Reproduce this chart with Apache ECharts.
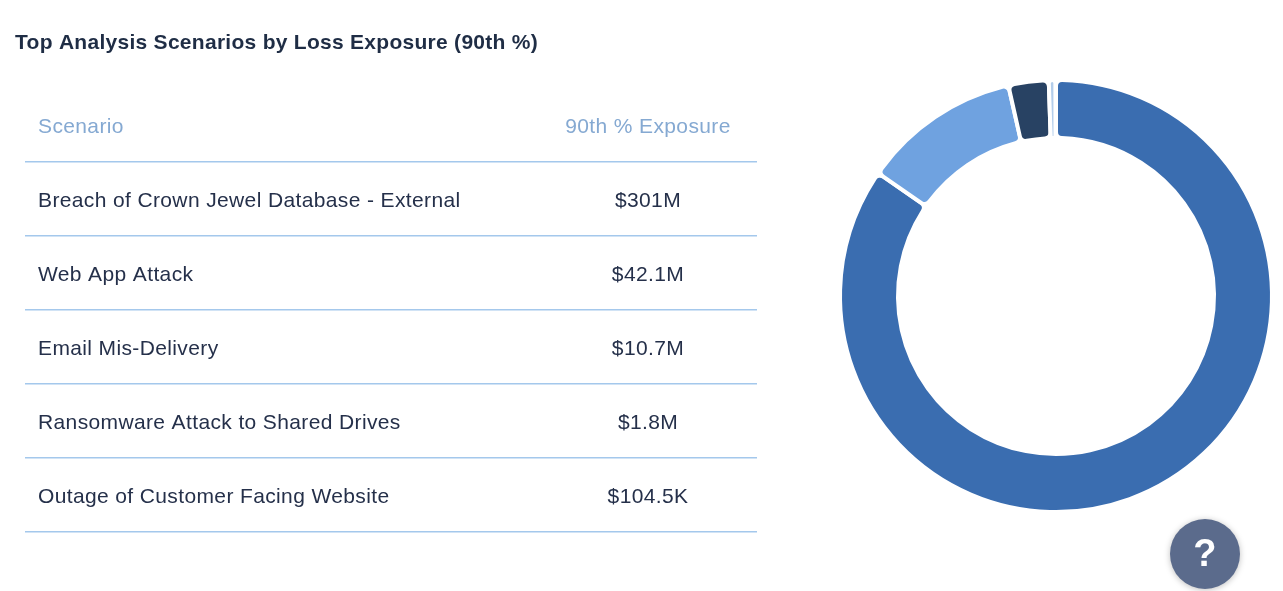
<!DOCTYPE html>
<html>
<head>
<meta charset="utf-8">
<style>
  html, body { margin: 0; padding: 0; background: #fff; }
  #chart { width: 1283px; height: 591px; }
</style>
<script src="https://cdn.jsdelivr.net/npm/echarts@6/dist/echarts.min.js"></script>
</head>
<body>
<div id="chart"></div>
<script>
const titleText = 'Top Analysis Scenarios by Loss Exposure (90th %)';
const columnNames = ['Scenario', '90th % Exposure'];
const scenarios = [
  'Breach of Crown Jewel Database - External',
  'Web App Attack',
  'Email Mis-Delivery',
  'Ransomware Attack to Shared Drives',
  'Outage of Customer Facing Website'
];
const exposureLabels = ['$301M', '$42.1M', '$10.7M', '$1.8M', '$104.5K'];
const exposureValues = [301000000, 42100000, 10700000, 1800000, 104500];
const sliceColors = ['#3a6db0', '#6fa2e0', '#284263', '#b3cdea', '#d5e3f3'];

const fontFamily = '"Liberation Sans", Arial, sans-serif';
const rowLines = [161.75, 235.75, 309.75, 383.75, 457.75, 531.75];

// zrender has no letter spacing option, the tracking is set on the canvas here
const rawFillText = CanvasRenderingContext2D.prototype.fillText;
CanvasRenderingContext2D.prototype.fillText = function(text, x, y, maxWidth) {
  this.letterSpacing = this.font.indexOf('bold') >= 0 ? '0.28px' : '0.37px';
  if (maxWidth === undefined) {
    rawFillText.call(this, text, x, y);
  } else {
    rawFillText.call(this, text, x, y, maxWidth);
  }
};

let tableItems = [];
function cell(text, x, y, color, align) {
  return {
    type: 'text',
    x: x,
    y: y,
    style: {
      text: text,
      fill: color,
      font: '21px ' + fontFamily,
      textAlign: align,
      textVerticalAlign: 'middle'
    }
  };
}
tableItems.push({
  type: 'text',
  x: 15,
  y: 43,
  style: {
    text: titleText,
    fill: '#1f2d45',
    font: 'bold 21px ' + fontFamily,
    textAlign: 'left',
    textVerticalAlign: 'middle'
  }
});
tableItems.push(cell(columnNames[0], 38, 127, '#85a9d2', 'left'));
tableItems.push(cell(columnNames[1], 648, 127, '#85a9d2', 'center'));
scenarios.forEach(function(name, index) {
  let y = 201 + index * 74;
  tableItems.push(cell(name, 38, y, '#25304a', 'left'));
  tableItems.push(cell(exposureLabels[index], 648, y, '#25304a', 'center'));
});
rowLines.forEach(function(y) {
  tableItems.push({
    type: 'line',
    shape: {x1: 25, y1: y, x2: 757, y2: y},
    style: {stroke: '#a4c8ec', lineWidth: 1.5}
  });
});

// help button in the corner
tableItems.push({
  type: 'circle',
  shape: {cx: 1205, cy: 554, r: 35},
  style: {
    fill: '#5b6b8c',
    shadowBlur: 6,
    shadowColor: 'rgba(0,0,0,0.25)',
    shadowOffsetY: 1
  }
});
tableItems.push({
  type: 'text',
  x: 1205,
  y: 556,
  style: {
    text: '?',
    fill: '#fff',
    font: 'bold 38px ' + fontFamily,
    textAlign: 'center',
    textVerticalAlign: 'middle'
  }
});

const chart = echarts.init(document.getElementById('chart'));
chart.setOption({
  animation: false,
  graphic: tableItems,
  series: [{
    type: 'pie',
    center: [1056, 296],
    radius: [158, 216],
    startAngle: 90,
    clockwise: true,
    silent: true,
    minAngle: 0,
    label: {show: false},
    labelLine: {show: false},
    itemStyle: {
      borderColor: '#fff',
      borderWidth: 4,
      borderRadius: 6
    },
    data: exposureValues.map(function(value, index) {
      return {
        name: scenarios[index],
        value: value,
        itemStyle: {color: sliceColors[index]}
      };
    })
  }]
});
</script>
</body>
</html>
